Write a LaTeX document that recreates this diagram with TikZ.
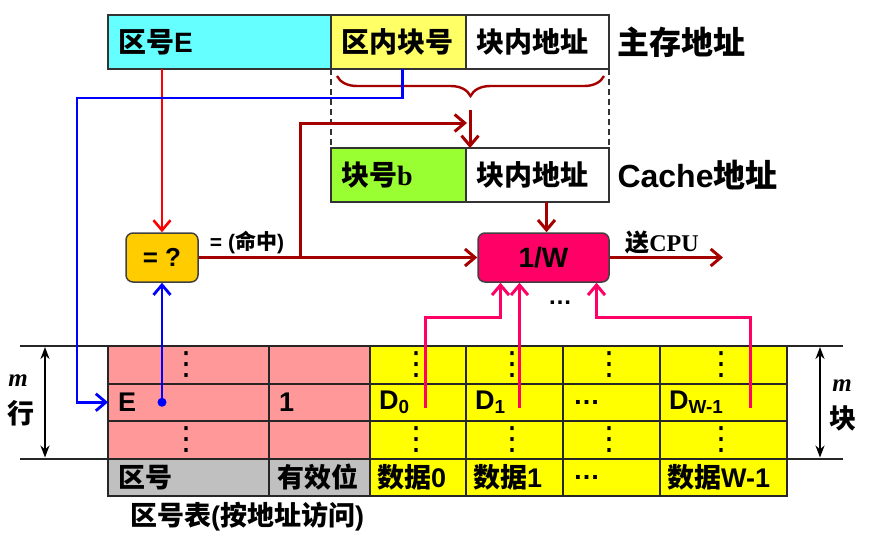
\documentclass[tikz,border=0pt]{standalone}
\usepackage{fontspec}
\setmainfont{Liberation Sans}
\newfontfamily\hei{Noto Sans CJK SC}
\newfontfamily\tms{Liberation Serif}
\newfontfamily\djv{DejaVu Sans}
\newcommand\zh[1]{{\hei #1}}
\newcommand\vdts{{\djv\mdseries ⋮}}
\usetikzlibrary{arrows.meta,positioning,decorations.pathreplacing}
\definecolor{zcyan}{HTML}{66FFFF}
\definecolor{zyel}{HTML}{FFFF66}
\definecolor{bgreen}{HTML}{99FF33}
\definecolor{cmpor}{HTML}{FFCC00}
\definecolor{selred}{HTML}{FF0066}
\definecolor{tagpink}{HTML}{FF9999}
\definecolor{datayel}{HTML}{FFFF00}
\definecolor{vgray}{HTML}{C0C0C0}
\definecolor{dred}{HTML}{A50000}

\begin{document}
\begin{tikzpicture}[x=1pt,y=-1pt,
  abox/.style={draw=black!80, line width=2pt, outer sep=0pt, minimum height=54pt, inner xsep=10pt, text width=#1, align=left, font=\fontsize{28}{32}\selectfont\bfseries},
  cell/.style={draw=black!85, line width=2pt, outer sep=0pt, minimum height=37.5pt, anchor=north west, inner sep=0pt},
  tab/.style={inner sep=0pt, font=\fontsize{27}{30}\selectfont\bfseries},
  ttl/.style={font=\fontsize{32}{36}\selectfont\bfseries},
  unit/.style={draw=black!75, line width=1.5pt, rounded corners=7pt, minimum height=49pt},
  tip/.style={-{Straight Barb[length=10pt,width=17pt]}},
  darr/.style={tip, draw=dred, line width=3pt},
  rarr/.style={tip, draw=red, line width=2.6pt},
  barr/.style={tip, draw=blue, line width=2.8pt},
  parr/.style={tip, draw=selred, line width=3pt},
  dim/.style={{Stealth[length=12pt,width=9pt]}-{Stealth[length=12pt,width=9pt]}, line width=2pt}
]
\useasboundingbox (0,0) rectangle (869,541);

% main memory address / cache address
\node[abox=203pt, fill=zcyan, anchor=north west] (zoneE) at (108,15) {\zh{区号}E};
\node[abox=115pt, fill=zyel, right=0pt of zoneE] (zoneBlk) {\zh{区内块号}};
\node[abox=123pt, fill=white, right=0pt of zoneBlk] (mainOff) {\zh{块内地址}};
\node[ttl, right=5pt of mainOff] (mainLbl) {\zh{主存地址}};

\node[abox=115pt, fill=bgreen, anchor=north west] (cacheBlk) at (331,148) {\zh{块号}{\tms b}};
\node[abox=123pt, fill=white, right=0pt of cacheBlk] (cacheOff) {\zh{块内地址}};
\node[ttl, right=5pt of cacheOff] (cacheLbl) {Cache\zh{地址}};

\draw[dashed, dash pattern=on 6pt off 4pt, line width=1.6pt, black!80] (zoneBlk.south west) -- (cacheBlk.north west);
\draw[dashed, dash pattern=on 6pt off 4pt, line width=1.6pt, black!80] (mainOff.south east) -- (cacheOff.north east);

% compare and select units
\node[unit, fill=cmpor, minimum width=72pt, font=\fontsize{26}{30}\selectfont\bfseries] (cmp) at (162,257.5) {= ?};
\node[unit, fill=selred, minimum width=131pt, font=\fontsize{28}{30}\selectfont\bfseries] (sel) at (543.5,257.5) {1/W};
\node[font=\fontsize{21}{24}\selectfont\bfseries] (hitLbl) at (247,242) {= (\zh{命中})};
\node[font=\fontsize{24}{28}\selectfont\bfseries] (cpuLbl) at (662,242) {\zh{送}{\tms CPU}};
\node[font=\fontsize{24}{28}\selectfont\bfseries] (selDots) at (560,303) {…};

% brace over block number + offset
\draw[dred, line width=2.4pt, decorate, decoration={brace, amplitude=20pt}] (604,76) -- (337,76);
\coordinate (bArr) at (470,110);
\coordinate (join) at (467,123);
\coordinate (fork) at (300,257.5);
\coordinate (cpuEnd) at (723,257.5);

\draw[darr] (bArr) -- (bArr |- cacheBlk.north);
\draw[darr] (fork) |- (join);
\draw[darr] (cmp) -- (sel);
\draw[darr] (sel) -- (cpuEnd);
\draw[darr] ([xshift=3pt]sel.north |- cacheOff.south) -- ([xshift=3pt]sel.north);
\draw[rarr] (cmp.north |- zoneE.south) -- (cmp.north);

% zone table
\foreach \x/\w/\col [count=\i] in {108/161/tagpink,269/101/tagpink,370/96/datayel,466/97/datayel,563/97/datayel,660/127/datayel}{
  \foreach \r in {1,2,3}
    \node[cell, minimum width=\w pt, fill=\col] (c\r\i) at (\x,{346+37.5*(\r-1)}) {};
}
\foreach \x/\w/\col [count=\i] in {108/161/vgray,269/101/vgray,370/96/datayel,466/97/datayel,563/97/datayel,660/127/datayel}
  \node[cell, minimum width=\w pt, fill=\col] (c4\i) at (\x,458.5) {};

\foreach \i in {1,3,4,5,6}
  \foreach \r in {1,3}
    \node[tab, font=\fontsize{32}{34}\selectfont] (v\r\i) at ([xshift=-2pt]c\r\i) {\vdts};

\node[tab, anchor=west] (tE) at ([xshift=10pt]c21.west) {E};
\node[tab, anchor=west] (tV) at ([xshift=10pt]c22.west) {1};
\node[tab, anchor=west] (tD0) at ([xshift=9pt]c23.west) {D\textsubscript{0}};
\node[tab, anchor=west] (tD1) at ([xshift=9pt]c24.west) {D\textsubscript{1}};
\node[tab, anchor=west] (tDx) at ([xshift=10pt]c25.west) {…};
\node[tab, anchor=west] (tDW) at ([xshift=9pt]c26.west) {D\textsubscript{W-1}};

\node[tab, anchor=west] (hTag) at ([xshift=10pt]c41.west) {\zh{区号}};
\node[tab, anchor=west] (hVal) at ([xshift=8pt]c42.west) {\zh{有效位}};
\node[tab, anchor=west] (hD0) at ([xshift=7pt]c43.west) {\zh{数据}0};
\node[tab, anchor=west] (hD1) at ([xshift=7pt]c44.west) {\zh{数据}1};
\node[tab, anchor=west] (hDx) at ([xshift=10pt]c45.west) {…};
\node[tab, anchor=west] (hDW) at ([xshift=7pt]c46.west) {\zh{数据}W-1};

\node[font=\fontsize{27}{30}\selectfont\bfseries] (cap) at (247,517) {\zh{区号表}(\zh{按地址访问})};

% m rows / m blocks
\draw[line width=2pt, black!85] (20,346) -- (c11.north west);
\draw[line width=2pt, black!85] (20,458.5) -- (c31.south west);
\draw[line width=2pt, black!85] (c16.north east) -- (843,346);
\draw[line width=2pt, black!85] (c36.south east) -- (843,458.5);
\coordinate (lTop) at (45,347);
\coordinate (lBot) at (45,457.5);
\coordinate (rTop) at (820,347);
\coordinate (rBot) at (820,457.5);
\draw[dim] (lTop) -- (lBot);
\draw[dim] (rTop) -- (rBot);
\node[font=\fontsize{25}{26}\selectfont\bfseries\itshape\tms] (mRow) at (18,381) {m};
\node[font=\fontsize{27}{28}\selectfont\bfseries] (hang) at (21,413) {\zh{行}};
\node[font=\fontsize{25}{26}\selectfont\bfseries\itshape\tms] (mBlk) at (842,386) {m};
\node[font=\fontsize{27}{28}\selectfont\bfseries] (kuai) at (843,418) {\zh{块}};

% tag path (blue)
\coordinate (eDot) at (cmp.south |- c21.west);
\draw[barr] ([xshift=4pt]zoneBlk.south) |- (77,98) |- (c21.west);
\fill[blue] (eDot) circle (4.5pt);
\draw[barr] (eDot) -- (cmp.south);

% data words into the selector
\coordinate (d0) at (425,408);
\coordinate (d1) at (519.5,408);
\coordinate (dw) at (750,408);
\draw[parr] (d0) -- ++(0,-91) -| ([xshift=-43pt]sel.south);
\draw[parr] (d1) -- ([xshift=-24pt]sel.south);
\draw[parr] (dw) -- ++(0,-91) -| ([xshift=53pt]sel.south);
\end{tikzpicture}
\end{document}
